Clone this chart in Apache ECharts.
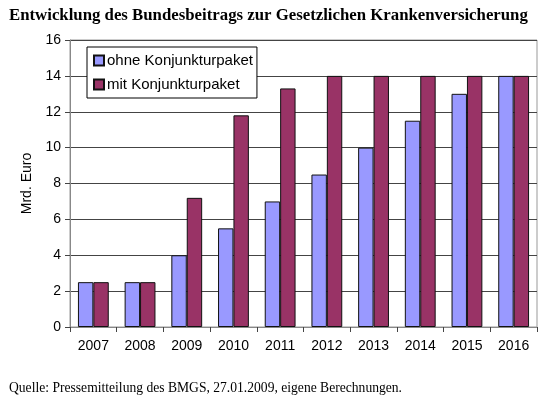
<!DOCTYPE html>
<html>
<head>
<meta charset="utf-8">
<script src="https://cdn.jsdelivr.net/npm/echarts@6/dist/echarts.min.js"></script>
<style>
  html, body { margin: 0; padding: 0; background: #fff; }
  #chart { width: 550px; height: 399px; }
</style>
</head>
<body>
<div id="chart"></div>
<script>
var years = ['2007', '2008', '2009', '2010', '2011', '2012', '2013', '2014', '2015', '2016'];
var ohne = [2.5, 2.5, 4, 5.5, 7, 8.5, 10, 11.5, 13, 14];
var mit = [2.5, 2.5, 7.2, 11.8, 13.3, 14, 14, 14, 14, 14];

var myChart = echarts.init(document.getElementById('chart'));

var option = {
    animation: false,
    title: [
        {
            text: 'Entwicklung des Bundesbeitrags zur Gesetzlichen Krankenversicherung',
            left: 4,
            top: 2,
            textStyle: {
                fontFamily: 'Liberation Serif',
                fontSize: 16.8,
                fontWeight: 'bold',
                color: '#000'
            }
        },
        {
            text: 'Quelle: Pressemitteilung des BMGS, 27.01.2009, eigene Berechnungen.',
            left: 4,
            top: 376,
            textStyle: {
                fontFamily: 'Liberation Serif',
                fontSize: 13.6,
                fontWeight: 'normal',
                color: '#000'
            }
        }
    ],
    grid: {
        left: 70,
        right: 13,
        top: 40,
        bottom: 72,
        show: true,
        borderColor: '#999',
        borderWidth: 1
    },
    legend: {
        orient: 'vertical',
        left: 87,
        top: 47,
        padding: [6, 4, 6, 6],
        itemGap: 9,
        itemWidth: 10,
        itemHeight: 10,
        borderColor: '#000',
        borderWidth: 1,
        backgroundColor: '#fff',
        icon: 'rect',
        textStyle: {
            fontFamily: 'Liberation Sans',
            fontSize: 15,
            color: '#000',
            padding: [0, 0, 0, -2]
        },
        data: ['ohne Konjunkturpaket', 'mit Konjunkturpaket']
    },
    xAxis: {
        type: 'category',
        data: years,
        axisLine: { lineStyle: { color: '#888' } },
        axisTick: { show: true, length: 5, lineStyle: { color: '#444' } },
        axisLabel: {
            fontFamily: 'Liberation Sans',
            fontSize: 14,
            color: '#000',
            margin: 12
        }
    },
    yAxis: {
        type: 'value',
        min: 0,
        max: 16,
        interval: 2,
        name: 'Mrd. Euro',
        nameLocation: 'middle',
        nameGap: 36,
        nameTextStyle: {
            fontFamily: 'Liberation Sans',
            fontSize: 14,
            color: '#000'
        },
        axisLine: { show: true, lineStyle: { color: '#888' } },
        axisTick: { show: true, length: 5, lineStyle: { color: '#444' } },
        axisLabel: {
            fontFamily: 'Liberation Sans',
            fontSize: 14,
            color: '#000',
            margin: 9
        },
        splitLine: { lineStyle: { color: '#444', width: 1 } }
    },
    series: [
        {
            name: 'ohne Konjunkturpaket',
            type: 'bar',
            data: ohne,
            barGap: '0%',
            barCategoryGap: '34%',
            itemStyle: { color: '#9999ff', borderColor: '#111', borderWidth: 1 }
        },
        {
            name: 'mit Konjunkturpaket',
            type: 'bar',
            data: mit,
            itemStyle: { color: '#993366', borderColor: '#111', borderWidth: 1 }
        }
    ]
};

myChart.setOption(option);
</script>
</body>
</html>
